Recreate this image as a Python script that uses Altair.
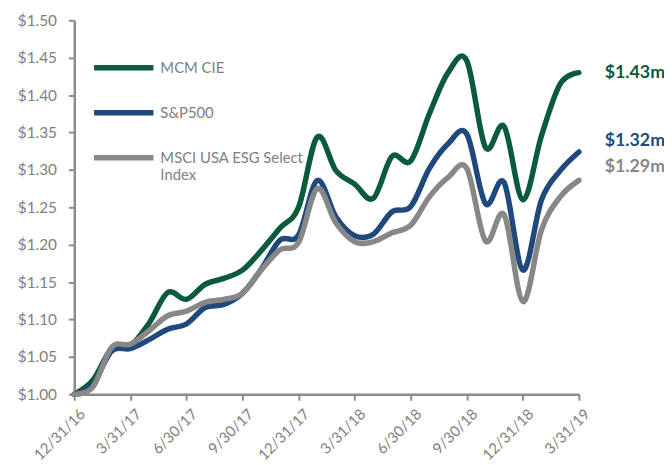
import altair as alt
import pandas as pd

# ---- data -------------------------------------------------------------
months = [
    "2016-12", "2017-01", "2017-02", "2017-03", "2017-04", "2017-05", "2017-06",
    "2017-07", "2017-08", "2017-09", "2017-10", "2017-11", "2017-12",
    "2018-01", "2018-02", "2018-03", "2018-04", "2018-05", "2018-06",
    "2018-07", "2018-08", "2018-09", "2018-10", "2018-11", "2018-12",
    "2019-01", "2019-02", "2019-03",
]
tick_labels = ["12/31/16", "3/31/17", "6/30/17", "9/30/17", "12/31/17",
               "3/31/18", "6/30/18", "9/30/18", "12/31/18", "3/31/19"]

series_names = ["MCM CIE", "S&P500", "MSCI USA ESG Select Index"]

mcm_cie = [1.000, 1.019, 1.061, 1.065, 1.095, 1.136, 1.127, 1.147, 1.155, 1.166,
           1.192, 1.222, 1.250, 1.344, 1.299, 1.281, 1.262, 1.318, 1.312, 1.375,
           1.430, 1.446, 1.330, 1.358, 1.260, 1.346, 1.415, 1.430]
sp500 = [1.000, 1.014, 1.058, 1.061, 1.073, 1.087, 1.094, 1.116, 1.120, 1.135,
         1.167, 1.206, 1.213, 1.286, 1.237, 1.212, 1.214, 1.244, 1.251, 1.302,
         1.335, 1.348, 1.255, 1.283, 1.166, 1.260, 1.299, 1.324]
msci_esg = [1.000, 1.010, 1.063, 1.067, 1.085, 1.105, 1.111, 1.123, 1.127, 1.135,
            1.166, 1.193, 1.203, 1.275, 1.229, 1.204, 1.204, 1.216, 1.226, 1.264,
            1.290, 1.302, 1.205, 1.240, 1.124, 1.220, 1.264, 1.286]

end_labels = ["$1.43m", "$1.32m", "$1.29m"]
colors = ["#0b5a3b", "#1f497d", "#878787"]
label_dy = [0, -11, -13]

# ---- table ------------------------------------------------------------
rows = []
for name, vals, lab in zip(series_names, [mcm_cie, sp500, msci_esg], end_labels):
    for i, (m, v) in enumerate(zip(months, vals)):
        rows.append({"series": name, "idx": i, "month": m, "value": v, "endlabel": lab})
df = pd.DataFrame(rows)
last_idx = len(months) - 1

FONT = "Lato"
AXIS_GRAY = "#8c8c8c"
TEXT_GRAY = "#808080"

x_label_expr = "[" + ",".join(f"'{t}'" for t in tick_labels) + "][round(datum.value / 3)]"
y_ticks = [round(1.0 + 0.05 * k, 2) for k in range(11)]

color_scale = alt.Scale(domain=series_names, range=colors)

x_enc = alt.X(
    "idx:Q",
    scale=alt.Scale(domain=[0, last_idx], nice=False, zero=False),
    axis=alt.Axis(values=list(range(0, len(months), 3)), labelExpr=x_label_expr,
                  labelAngle=-45, labelAlign="right", labelBaseline="top",
                  labelPadding=6, labelOffset=3, labelOverlap=False,
                  labelBound=False, labelFontSize=15),
    title=None,
)
y_enc = alt.Y(
    "value:Q",
    scale=alt.Scale(domain=[1.0, 1.5], nice=False, zero=False),
    axis=alt.Axis(values=y_ticks, format="$.2f", labelPadding=12, labelFontSize=15.5),
    title=None,
)

base = alt.Chart(df)

layers = []
for k, name in enumerate(series_names):
    legend = None
    if k == 0:
        legend = alt.Legend(
            orient="none", legendX=17, legendY=15, title=None,
            symbolType="stroke", symbolSize=3600, symbolStrokeWidth=5.5,
            labelFont=FONT, labelFontSize=15, labelColor=TEXT_GRAY,
            labelOffset=4, rowPadding=1.5, padding=0, labelLimit=300,
            labelExpr="datum.label == 'MSCI USA ESG Select Index' ? ['MSCI USA ESG Select', 'Index'] : datum.label",
        )
    line = base.transform_filter(alt.datum.series == name).mark_line(
        strokeWidth=5.5, interpolate="cardinal", strokeCap="round", strokeJoin="round"
    ).encode(
        x=x_enc, y=y_enc,
        color=alt.Color("series:N", scale=color_scale, legend=legend),
    )
    layers.append(line)

for k, name in enumerate(series_names):
    txt = base.transform_filter(
        (alt.datum.series == name) & (alt.datum.idx == last_idx)
    ).mark_text(
        align="left", baseline="middle", dx=26, dy=label_dy[k],
        font=FONT, fontSize=18, fontWeight="bold", color=colors[k],
    ).encode(x=x_enc, y=y_enc, text="endlabel:N")
    layers.append(txt)

chart = alt.layer(*layers).properties(
    width=510, height=378,
    autosize=alt.AutoSizeParams(type="none"),
    padding={"left": 67, "top": 10, "right": 86, "bottom": 67},
).configure_view(stroke=None).configure_axis(
    grid=False, domainColor=AXIS_GRAY, domainWidth=2.5, tickColor=AXIS_GRAY,
    tickWidth=2, tickSize=6, labelFont=FONT, labelColor=TEXT_GRAY,
)

chart.save("out.html", embed_options={"renderer": "svg", "actions": False})
